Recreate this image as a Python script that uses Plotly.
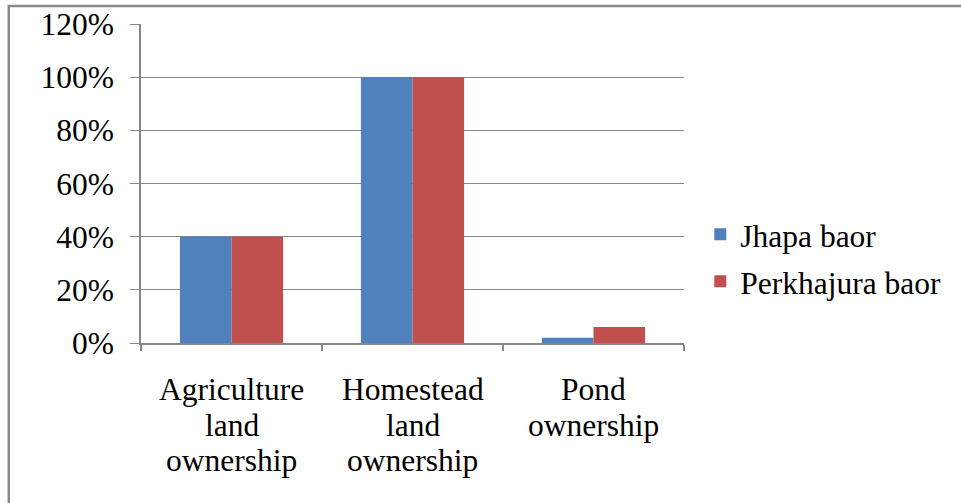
import plotly.graph_objects as go

categories = ["Agriculture land ownership", "Homestead land ownership", "Pond ownership"]
category_lines = [["Agriculture", "land", "ownership"], ["Homestead", "land", "ownership"], ["Pond", "ownership"]]
jhapa = [0.40, 1.00, 0.02]
perkhajura = [0.40, 1.00, 0.06]
y_ticks = [0, 0.2, 0.4, 0.6, 0.8, 1.0, 1.2]
y_tick_labels = ["0%", "20%", "40%", "60%", "80%", "100%", "120%"]

FONT = "Liberation Serif"
GRID = "#878787"
FS = 31.5

fig = go.Figure()
fig.add_trace(go.Bar(name="Jhapa baor", x=categories, y=jhapa, legendgroup="a",
                     marker=dict(color="#4F81BD", line=dict(width=0))))
fig.add_trace(go.Bar(name="Perkhajura baor", x=categories, y=perkhajura, legendgroup="b",
                     marker=dict(color="#C0504D", line=dict(width=0))))

# category labels, one annotation per line for Office-like line spacing
for cat, lines in zip(categories, category_lines):
    for j, txt in enumerate(lines):
        fig.add_annotation(x=cat, xref="x", y=0, yref="paper", yanchor="top",
                           yshift=-(27 + 35.5 * j), text=txt, showarrow=False,
                           font=dict(family=FONT, size=FS, color="black"))

fig.update_layout(
    width=961, height=503,
    margin=dict(l=141, r=277, t=23.5, b=160, autoexpand=False),
    paper_bgcolor="white", plot_bgcolor="white",
    barmode="group", bargap=0.43, bargroupgap=0,
    font=dict(family=FONT, size=FS, color="black"),
    showlegend=True,
    legend=dict(x=1.03, xanchor="left", y=0.267, yanchor="middle",
                font=dict(family=FONT, size=FS, color="black"),
                traceorder="grouped", tracegroupgap=3, itemwidth=30,
                bgcolor="rgba(0,0,0,0)"),
    xaxis=dict(showgrid=False, showline=True, linecolor=GRID, linewidth=1.5,
               ticks="outside", tickson="boundaries", ticklen=6, tickcolor=GRID, tickwidth=1.5,
               showticklabels=False, automargin=False),
    yaxis=dict(range=[0, 1.2], tickvals=y_ticks, ticktext=y_tick_labels,
               showgrid=True, gridcolor=GRID, gridwidth=1,
               showline=True, linecolor=GRID, linewidth=1.5,
               ticks="outside", ticklen=9, tickcolor=GRID, tickwidth=1,
               tickfont=dict(family=FONT, size=FS), ticklabelstandoff=10,
               zeroline=False, automargin=False),
    shapes=[dict(type="rect", xref="paper", yref="paper",
                 x0=-0.2435, x1=1.6, y0=-0.6, y1=1.0563,
                 line=dict(color="#888888", width=2.5), fillcolor="rgba(0,0,0,0)", layer="below")],
)

fig.write_html("out.html")
